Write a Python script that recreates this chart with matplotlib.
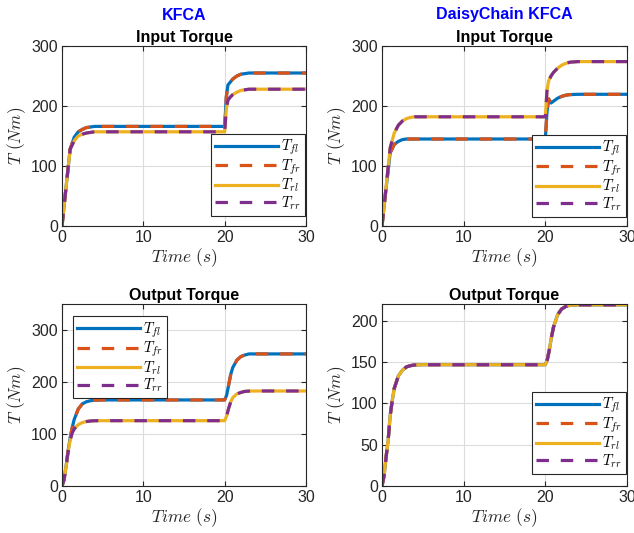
import matplotlib
matplotlib.use("Agg")
import matplotlib.pyplot as plt

plt.rcParams['font.family'] = ['Liberation Sans', 'DejaVu Sans']
plt.rcParams['mathtext.fontset'] = 'cm'

# ---------------- data ----------------
t_in = [0, 0.5, 1.0, 1.5, 2, 2.5, 3, 3.5, 4, 5, 20, 20.2, 20.4, 20.7, 21, 21.5, 22, 22.5, 23, 24, 30]

kfca_in_front = [0, 65, 128, 148, 157, 161, 164, 165, 166, 166, 166, 215, 235, 240, 245, 250, 253, 254, 255, 255, 255]
kfca_in_rear = [0, 65, 128, 142, 150, 153, 155, 156, 157, 157, 157, 195, 210, 215, 219, 223, 226, 227, 228, 228, 228]

dc_in_front = [0, 63, 122, 136, 141, 144, 145, 145, 145, 145, 145, 190, 212, 205, 208, 213, 216, 218, 219, 219.5, 219.5]
dc_in_rear = [0, 65, 130, 155, 168, 175, 179, 181, 182, 182, 182, 225, 242, 250, 256, 263, 268, 271, 273, 274, 274]

t_out = [0, 0.25, 0.5, 0.75, 1.0, 1.25, 1.5, 2, 2.5, 3, 3.5, 4, 5, 20, 20.25, 20.5, 20.75, 21, 21.5, 22, 22.5, 23, 24, 30]

kfca_out_front = [0, 12, 38, 68, 92, 112, 128, 148, 158, 162, 164, 165, 165.5, 165.5, 175, 195, 215, 228, 242, 249, 252, 254, 254, 254]
kfca_out_rear = [0, 12, 38, 66, 88, 102, 110, 118, 122, 124, 125, 125.5, 125.6, 125.6, 135, 150, 162, 170, 177, 180, 182, 182.5, 182.7, 182.7]

dc_out_all = [0, 12, 35, 55, 85, 103, 118, 133, 140, 144, 145.5, 146.3, 146.6, 146.6, 153, 165, 180, 192, 207, 214, 217, 218.5, 219, 219]

legend_labels = [r'$T_{fl}$', r'$T_{fr}$', r'$T_{rl}$', r'$T_{rr}$']
col_titles = ['KFCA', 'DaisyChain KFCA']
row_titles = ['Input Torque', 'Output Torque']
xticks = [0, 10, 20, 30]

# ---------------- style ----------------
C_BLUE = '#0072BD'
C_ORANGE = '#D95319'
C_YELLOW = '#EDB120'
C_PURPLE = '#7E2F8E'
LW = 2.3
DASH = (0, (3.9, 3.7))

W, H = 634, 533
fig = plt.figure(figsize=(W / 100, H / 100), dpi=100)


def ax_rect(x0, x1, y0, y1):
    return [x0 / W, 1 - y1 / H, (x1 - x0) / W, (y1 - y0) / H]


axes = [
    fig.add_axes(ax_rect(62, 306, 46, 226)),
    fig.add_axes(ax_rect(382, 627, 46, 226)),
    fig.add_axes(ax_rect(62, 306, 304, 486)),
    fig.add_axes(ax_rect(382, 627, 304, 486)),
]

series = [
    (t_in, kfca_in_front, kfca_in_front, kfca_in_rear, kfca_in_rear),
    (t_in, dc_in_front, dc_in_front, dc_in_rear, dc_in_rear),
    (t_out, kfca_out_front, kfca_out_front, kfca_out_rear, kfca_out_rear),
    (t_out, dc_out_all, dc_out_all, dc_out_all, dc_out_all),
]
ylims = [(0, 300), (0, 300), (0, 350), (0, 220)]
yticks = [[0, 100, 200, 300], [0, 100, 200, 300], [0, 100, 200, 300], [0, 50, 100, 150, 200]]
# legend anchor points in pixels (x, y from top) and loc
legend_pos = [
    ('lower right', 305, 216),
    ('lower right', 626, 217),
    ('upper left', 73, 316),
    ('lower right', 626, 474),
]

for i, ax in enumerate(axes):
    t, fl, fr, rl, rr = series[i]
    ax.plot(t, fl, color=C_BLUE, lw=LW, label=legend_labels[0])
    ax.plot(t, fr, color=C_ORANGE, lw=LW, ls=DASH, label=legend_labels[1])
    ax.plot(t, rl, color=C_YELLOW, lw=LW, label=legend_labels[2])
    ax.plot(t, rr, color=C_PURPLE, lw=LW, ls=DASH, label=legend_labels[3])
    ax.set_xlim(0, 30)
    ax.set_ylim(*ylims[i])
    ax.set_xticks(xticks)
    ax.set_yticks(yticks[i])
    ax.grid(True, color='#dcdcdc', lw=0.8)
    ax.set_axisbelow(True)
    ax.tick_params(direction='in', top=True, right=True, labelsize=11.5,
                   colors='#262626', length=3.5, width=0.8, pad=3)
    for sp in ax.spines.values():
        sp.set_color('#262626')
        sp.set_linewidth(0.8)
    ax.set_xlabel(r'$Time\ (s)$', fontsize=12.5, color='#262626', labelpad=1)
    ax.set_ylabel(r'$T\ (Nm)$', fontsize=12.5, color='#262626', labelpad=2)
    ax.set_title(row_titles[i // 2], fontsize=11.5, fontweight='bold', pad=3)
    loc, lx, ly = legend_pos[i]
    leg = ax.legend(loc=loc, bbox_to_anchor=(lx / W, 1 - ly / H),
                    bbox_transform=fig.transFigure, borderaxespad=0,
                    fontsize=10.5, handlelength=4.3,
                    fancybox=False, framealpha=1, edgecolor='#262626',
                    borderpad=0.3, labelspacing=0.0, handletextpad=0.2)
    leg.get_frame().set_linewidth(0.8)

fig.text(184 / W, 1 - 15 / H, col_titles[0], color='#0000ff', fontsize=11.5,
         fontweight='bold', ha='center', va='center')
fig.text(504 / W, 1 - 15 / H, col_titles[1], color='#0000ff', fontsize=11.5,
         fontweight='bold', ha='center', va='center')

fig.savefig('out.png', dpi=100)
